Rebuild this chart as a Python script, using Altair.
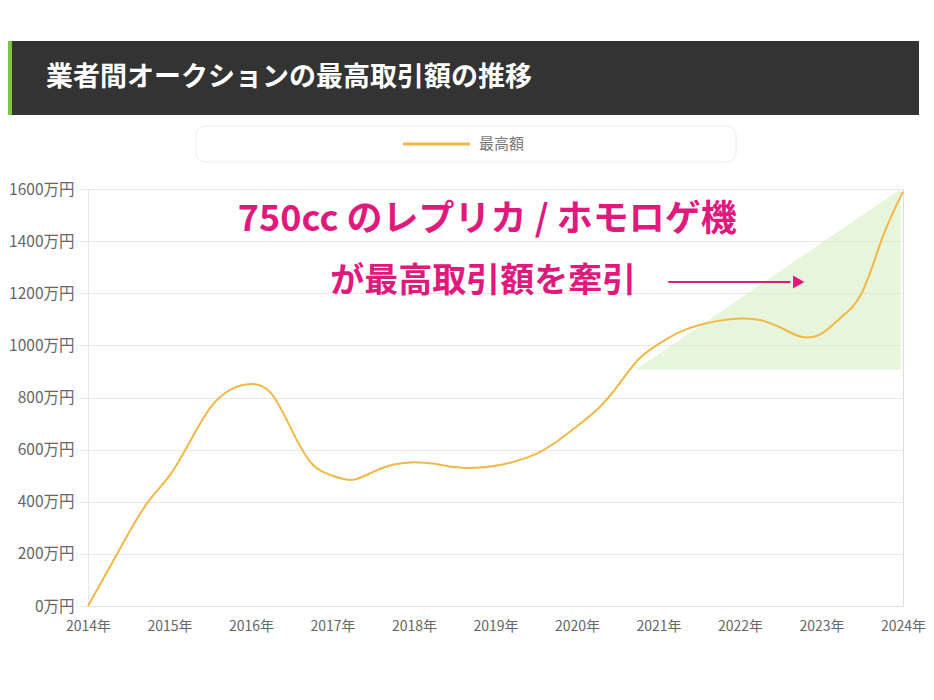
import altair as alt
import pandas as pd

# ---- data ----
years = [2014.0, 2014.25, 2014.5, 2014.75, 2015.0, 2015.25, 2015.5, 2015.75,
         2016.0, 2016.25, 2016.5, 2016.75, 2017.0, 2017.25, 2017.5, 2017.75,
         2018.0, 2018.25, 2018.5, 2018.75, 2019.0, 2019.25, 2019.5, 2019.75,
         2020.0, 2020.25, 2020.5, 2020.75, 2021.0, 2021.25, 2021.5, 2021.75,
         2022.0, 2022.25, 2022.5, 2022.75, 2023.0, 2023.25, 2023.5, 2023.75,
         2024.0]
values = [0, 140, 280, 405, 500, 630, 760, 830,
          852, 815, 675, 545, 500, 484, 515, 543,
          552, 546, 533, 530, 538, 556, 584, 630,
          690, 755, 845, 945, 1005, 1050, 1078, 1095,
          1103, 1097, 1068, 1033, 1045, 1110, 1205, 1415,
          1590]
series_name = "最高額"
title_text = "業者間オークションの最高取引額の推移"
x_ticks = list(range(2014, 2025))
y_ticks = list(range(0, 1601, 200))

# highlighted triangle
tri_x = [2020.72, 2023.97]
tri_top = [906, 1600]
tri_base = [906, 906]

# annotation
annot_lines = ["750cc のレプリカ / ホモロゲ機", "が最高取引額を牽引"]
annot_size = [36, 34]
annot_x = [2018.9, 2018.85]
annot_y = [1481, 1243]
arrow_x = [2021.12, 2022.62]
arrow_y = 1243
arrow_head_x = 2022.72

LINE_COLOR = "#f1b848"
PINK = "#e0197d"
FONT = "Noto Sans CJK JP"

df = pd.DataFrame({"year": years, "value": values})
tri_df = pd.DataFrame({"year": tri_x, "top": tri_top, "base": tri_base})
annot_df = pd.DataFrame({"text": annot_lines, "x": annot_x, "y": annot_y, "fs": annot_size})
arrow_df = pd.DataFrame({"x": [arrow_x[0]], "x2": [arrow_x[1]], "y": [arrow_y]})
head_df = pd.DataFrame({"x": [arrow_head_x], "y": [arrow_y]})
one = pd.DataFrame({"d": [0]})

xscale = alt.Scale(domain=[2014, 2024], nice=False, zero=False)
yscale = alt.Scale(domain=[0, 1600], nice=False)

x_axis = alt.Axis(values=x_ticks, labelExpr="datum.value + '年'", grid=False,
                  ticks=False, domainColor="#dddddd", labelPadding=13,
                  labelFlush=False, labelColor="#666666", labelFontSize=14,
                  labelFont=FONT, title=None)
y_axis = alt.Axis(values=y_ticks, labelExpr="datum.value + '万円'", grid=True,
                  gridColor="#e8e8e8", tickColor="#e8e8e8", tickSize=10,
                  domainColor="#e6e6e6", labelPadding=4,
                  labelColor="#666666", labelFontSize=15.5, labelFont=FONT, title=None)

tri = alt.Chart(tri_df).mark_area(color="#d4ecbb", opacity=0.55).encode(
    x=alt.X("year:Q", scale=xscale, axis=x_axis),
    y=alt.Y("top:Q", scale=yscale, axis=y_axis),
    y2="base:Q",
)

line = alt.Chart(df).mark_line(color=LINE_COLOR, strokeWidth=2,
                               interpolate="natural").encode(
    x=alt.X("year:Q", scale=xscale),
    y=alt.Y("value:Q", scale=yscale),
)

annot = alt.Chart(annot_df).mark_text(color=PINK, fontWeight="bold",
                                      font=FONT, align="center",
                                      baseline="middle").encode(
    x=alt.X("x:Q", scale=xscale), y=alt.Y("y:Q", scale=yscale), text="text:N",
    size=alt.Size("fs:Q", scale=None, legend=None))

arrow = alt.Chart(arrow_df).mark_rule(color=PINK, strokeWidth=2).encode(
    x=alt.X("x:Q", scale=xscale), x2="x2:Q", y=alt.Y("y:Q", scale=yscale))

head = alt.Chart(head_df).mark_point(shape="triangle-right", filled=True,
                                     color=PINK, size=170, opacity=1).encode(
    x=alt.X("x:Q", scale=xscale), y=alt.Y("y:Q", scale=yscale))

# header bar
bar = alt.Chart(one).mark_rect(color="#333333").encode(
    x=alt.value(-80), x2=alt.value(831), y=alt.value(-148), y2=alt.value(-74))
stripe = alt.Chart(one).mark_rect(color="#7dc242").encode(
    x=alt.value(-80), x2=alt.value(-76), y=alt.value(-148), y2=alt.value(-74))
title = alt.Chart(one).mark_text(text=title_text, color="white", fontSize=27,
                                 fontWeight="bold", font=FONT, align="left",
                                 baseline="middle").encode(
    x=alt.value(-42), y=alt.value(-111))

# legend
leg_box = alt.Chart(one).mark_rect(fill="white", stroke="#ececec", strokeWidth=1,
                                   cornerRadius=9).encode(
    x=alt.value(108), x2=alt.value(648), y=alt.value(-63), y2=alt.value(-27))
leg_line = alt.Chart(one).mark_rule(color=LINE_COLOR, strokeWidth=3).encode(
    x=alt.value(315), x2=alt.value(382), y=alt.value(-45))
leg_text = alt.Chart(one).mark_text(text=series_name, color="#777777", fontSize=15,
                                    font=FONT, align="left",
                                    baseline="middle").encode(
    x=alt.value(391), y=alt.value(-45))

chart = alt.layer(
    tri, line, annot, arrow, head, bar, stripe, title, leg_box, leg_line, leg_text
).properties(
    width=815, height=417,
    autosize="none",
    padding={"left": 80, "top": 181, "right": 23, "bottom": 80},
).configure_view(stroke=None).configure(background="white")

chart.save("out.html", embed_options={"renderer": "svg", "actions": False})
